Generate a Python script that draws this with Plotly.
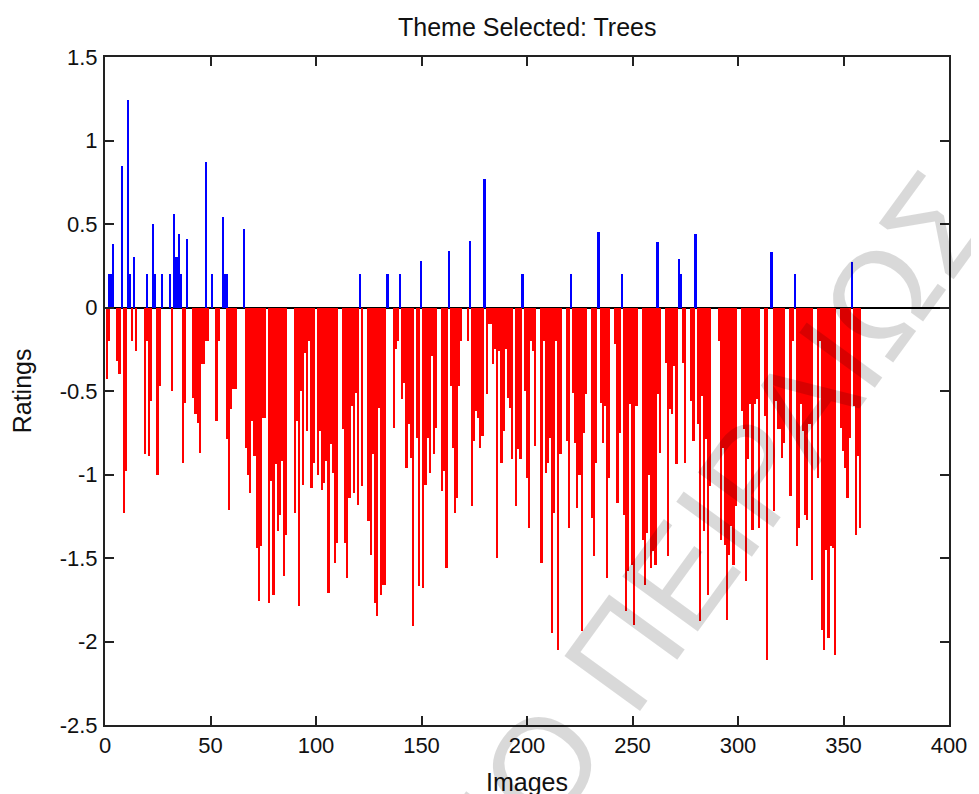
import plotly.graph_objects as go

# ---------------- data ----------------
images = list(range(1, 359))

neg_ratings = [
    -0.43, -0.20, 0, 0, 0, -0.32, -0.40, 0, -1.23, -0.98,          # 1-10
    0, 0, -0.20, 0, -0.26, 0, 0, 0, -0.88, -0.20,                   # 11-20
    -0.89, -0.56, 0, 0, -1.00, -0.47, 0, 0, 0, 0,                   # 21-30
    0, -0.50, 0, 0, 0, 0, -0.93, -0.57, 0, 0,                       # 31-40
    0, -0.54, -0.64, -0.69, -0.87, -0.34, -0.34, -0.20, -0.20, 0,   # 41-50
    0, 0, -0.68, -0.20, 0, 0, 0, -0.79, -1.21, -0.61,               # 51-60
    -0.49, -0.49, 0, 0, 0, 0, -0.84, -1.00, -1.11, -0.68,           # 61-70
    -0.89, -1.44, -1.76, -1.43, -0.66, -0.66, 0, -1.77, -1.04, -1.72,  # 71-80
    -0.94, -1.34, -1.24, -0.92, -1.61, -1.36, 0, 0, 0, -1.23,       # 81-90
    -0.68, -1.79, -0.50, -1.06, -0.27, -0.74, -0.20, -1.08, -0.93, 0,  # 91-100
    -1.00, -0.74, -1.09, -1.05, -0.92, -1.71, -0.82, -0.99, -1.53, -1.41,  # 101-110
    0, 0, -0.73, -1.41, -1.62, -1.14, -0.59, -1.11, -0.51, -1.18,   # 111-120
    0, -1.07, 0, 0, -1.28, -1.48, -0.88, -1.77, -1.85, -0.60,       # 121-130
    -1.72, -1.66, -1.66, 0, 0, 0, -0.72, -0.25, -0.20, 0,           # 131-140
    -0.55, -0.45, -0.96, -0.70, -0.90, -1.91, 0, -0.78, -1.67, 0,   # 141-150
    -1.68, -1.06, -0.78, -0.99, -0.29, -0.88, -0.72, 0, 0, -1.10,   # 151-160
    -0.98, -1.56, 0, -0.47, -0.84, -1.23, -1.14, -0.47, -0.20, 0,   # 161-170
    0, -0.20, 0, -1.19, -0.80, -0.62, -0.66, -0.84, -0.77, 0,       # 171-180
    -0.52, -0.10, -0.10, -0.34, -0.25, -1.50, -0.26, -0.93, -0.74, -0.25,  # 181-190
    -0.54, -0.60, -0.91, 0, -1.19, -0.85, -0.91, 0, -0.50, -1.02,   # 191-200
    -1.32, -0.20, -0.26, -0.83, 0, 0, -1.53, -0.20, -0.99, -0.93,   # 201-210
    -0.78, -1.95, -1.23, -0.20, -2.05, -0.88, 0, 0, -0.80, -1.32,   # 211-220
    0, -0.51, -0.81, -1.20, -1.00, -1.94, -0.75, -0.52, 0, 0,       # 221-230
    -1.26, -1.49, -0.93, 0, -0.57, -0.81, -0.59, -1.62, -1.02, 0,   # 231-240
    0, -0.22, -1.17, -0.75, 0, -1.24, -1.82, -1.58, -0.58, -1.54,   # 241-250
    -1.90, -0.59, 0, 0, -1.39, -1.66, -1.35, -1.00, -1.56, -1.46,   # 251-260
    -1.54, -0.52, -0.87, 0, 0, -0.33, -1.49, -0.61, -0.64, -0.35,   # 261-270
    -0.94, 0, 0, -0.33, -0.93, 0, 0, -0.56, -0.80, 0,               # 271-280
    -0.70, -1.88, -0.53, -1.34, -0.79, -1.72, -1.07, 0, 0, 0,       # 281-290
    -0.20, -1.39, -0.84, -1.42, -1.87, -1.48, -1.31, -1.54, -1.19, 0,  # 291-300
    0, -0.62, -0.73, -1.64, -0.91, -0.58, -1.33, -0.58, -0.55, -1.32,  # 301-310
    0, 0, -0.65, -2.11, 0, 0, -1.22, -0.56, -0.73, -0.73,           # 311-320
    -0.90, -0.81, 0, 0, -1.13, -0.20, 0, -1.43, -1.32, -0.58,       # 321-330
    -0.74, -1.24, -1.27, -0.70, -1.63, 0, 0, -1.02, -0.20, -1.93,   # 331-340
    -2.05, -1.45, -1.98, -1.43, -1.44, -2.08, 0, 0, -0.72, -0.86,   # 341-350
    -0.96, -1.14, -0.78, 0, -0.59, -1.36, -0.89, -1.32,             # 351-358
]

pos_images = [2, 3, 4, 8, 11, 12, 14, 20, 23, 24, 27, 31, 33, 34, 35, 36, 39,
              48, 51, 56, 57, 58, 66, 121, 134, 140, 150, 163, 173, 180, 198,
              221, 234, 245, 262, 272, 273, 280, 316, 327, 354]
pos_ratings = [0.20, 0.20, 0.38, 0.85, 1.24, 0.20, 0.30, 0.20, 0.50, 0.20, 0.20,
               0.20, 0.56, 0.30, 0.44, 0.20, 0.41, 0.87, 0.20, 0.54, 0.20, 0.20,
               0.47, 0.20, 0.20, 0.20, 0.28, 0.34, 0.40, 0.77, 0.20, 0.20, 0.45,
               0.20, 0.39, 0.29, 0.20, 0.44, 0.33, 0.20, 0.27]

x_ticks = [0, 50, 100, 150, 200, 250, 300, 350, 400]
y_ticks = [1.5, 1, 0.5, 0, -0.5, -1, -1.5, -2, -2.5]
y_ticklabels = ["1.5", "1", "0.5", "0", "-0.5", "-1", "-1.5", "-2", "-2.5"]

title_text = "Theme Selected: Trees"
x_label = "Images"
y_label = "Ratings"
watermark = "ΠΑΝΕΠΙΣΤΗΜΙΟ ΠΕΙΡΑΙΩΣ"

# ---------------- figure ----------------
FONT = "Liberation Sans, Arial, Helvetica, sans-serif"

fig = go.Figure()
fig.add_trace(go.Bar(x=images, y=neg_ratings, width=0.8,
                     marker=dict(color="#ff0000", line=dict(width=0)),
                     hoverinfo="x+y"))
fig.add_trace(go.Bar(x=pos_images, y=pos_ratings, width=0.8,
                     marker=dict(color="#0000ff", line=dict(width=0)),
                     hoverinfo="x+y"))

axis_common = dict(
    showgrid=False, ticks="inside", ticklen=9, tickwidth=1.5, tickcolor="#222222",
    showline=True, linewidth=2, linecolor="#222222", mirror="allticks",
    tickfont=dict(family=FONT, size=22, color="#111111"),
)

fig.update_xaxes(range=[0, 400], tickvals=x_ticks, zeroline=False,
                 ticklabelstandoff=0, **axis_common)
fig.update_yaxes(range=[-2.5, 1.5], tickvals=y_ticks, ticktext=y_ticklabels,
                 zeroline=True, zerolinecolor="#000000", zerolinewidth=1.5,
                 ticklabelstandoff=1, **axis_common)

fig.update_layout(
    width=971, height=786,
    margin=dict(l=97, r=27, t=49, b=69),
    paper_bgcolor="white", plot_bgcolor="white",
    barmode="overlay", bargap=0, showlegend=False,
    font=dict(family=FONT, size=22, color="#111111"),
    annotations=[
        dict(text=title_text, xref="paper", yref="paper", x=0.5, y=1.045,
             xanchor="center", yanchor="middle", showarrow=False,
             font=dict(family=FONT, size=25, color="#111111")),
        dict(text=y_label, xref="paper", yref="paper", x=-0.098, y=0.5,
             xanchor="center", yanchor="middle", textangle=-90, showarrow=False,
             font=dict(family=FONT, size=25, color="#111111")),
        dict(text=x_label, xref="paper", yref="paper", x=0.5, y=-0.0853,
             xanchor="center", yanchor="middle", showarrow=False,
             font=dict(family=FONT, size=25, color="#111111")),
        dict(text=watermark, xref="paper", yref="paper", x=0.424, y=-0.225,
             xanchor="center", yanchor="middle", textangle=-54, showarrow=False,
             font=dict(family=FONT, size=136, color="rgba(0,0,0,0.15)")),
    ],
)

fig.write_html("out.html")
